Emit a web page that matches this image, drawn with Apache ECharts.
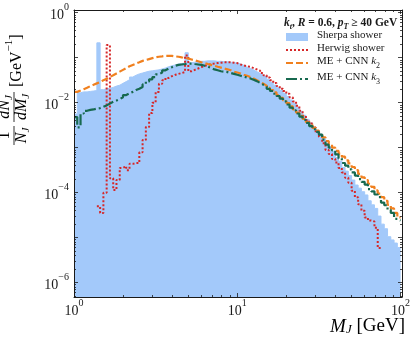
<!DOCTYPE html>
<html>
<head>
<meta charset="utf-8">
<script src="https://cdn.jsdelivr.net/npm/echarts@6/dist/echarts.min.js"></script>
<style>
  html, body { margin: 0; padding: 0; background: #fff; }
  #chart { width: 415px; height: 342px; }
</style>
</head>
<body>
<div id="chart"></div>
<script>
// jet mass spectra, 100 log bins between 1 and 100 GeV
const nBins = 100, massLo = 1, massHi = 100;

const sherpa = [
  5.6e-3, 1.66e-2, 1.74e-2, 1.74e-2, 1.78e-2, 1.82e-2, 1.86e-2, 2.14e-1, 1.95e-2, 2.04e-2,
  2.09e-2, 2.19e-2, 2.34e-2, 2.45e-2, 2.69e-2, 2.95e-2, 3.24e-2, 3.72e-2, 4.07e-2, 4.37e-2,
  4.57e-2, 4.79e-2, 5.01e-2, 5.13e-2, 5.25e-2, 5.37e-2, 5.62e-2, 5.89e-2, 6.31e-2, 6.61e-2,
  6.92e-2, 7.24e-2, 7.41e-2, 7.59e-2, 1.29e-1, 7.76e-2, 7.94e-2, 8.13e-2, 8.32e-2, 8.32e-2,
  8.51e-2, 8.51e-2, 8.51e-2, 8.32e-2, 8.32e-2, 8.13e-2, 8.13e-2, 7.94e-2, 7.76e-2, 7.59e-2,
  7.24e-2, 6.76e-2, 6.17e-2, 5.75e-2, 5.37e-2, 4.90e-2, 4.47e-2, 4.07e-2, 3.72e-2, 3.31e-2,
  2.82e-2, 2.45e-2, 2.14e-2, 1.86e-2, 1.62e-2, 1.38e-2, 1.15e-2, 9.55e-3, 7.76e-3, 6.46e-3,
  5.25e-3, 4.27e-3, 3.55e-3, 2.88e-3, 2.40e-3, 2.00e-3, 1.58e-3, 1.26e-3, 1.05e-3, 8.32e-4,
  6.03e-4, 5.01e-4, 3.63e-4, 3.02e-4, 2.40e-4, 1.91e-4, 1.48e-4, 1.26e-4, 1.05e-4, 8.91e-5,
  6.61e-5, 5.37e-5, 4.47e-5, 3.02e-5, 2.00e-5, 1.58e-5, 1.05e-5, 8.91e-6, 7.59e-6, 6.03e-6
];

// herwig is empty outside bins 7..93
const herwigFirstBin = 7;
const herwig = [
  5.01e-5, 3.55e-5, 1.00e-4, 1.91e-1, 2.09e-4, 1.15e-4, 1.91e-4, 3.55e-4, 3.89e-4, 3.16e-4,
  4.37e-4, 4.57e-4, 4.57e-4, 7.94e-4, 1.48e-3, 2.88e-3, 5.89e-3, 1.00e-2, 1.74e-2, 2.63e-2,
  3.16e-2, 3.55e-2, 3.89e-2, 4.17e-2, 4.37e-2, 4.57e-2, 4.79e-2, 1.12e-1, 5.01e-2, 5.37e-2,
  5.75e-2, 6.17e-2, 6.61e-2, 6.92e-2, 7.24e-2, 7.41e-2, 7.59e-2, 7.76e-2, 7.94e-2, 7.94e-2,
  7.94e-2, 7.76e-2, 7.59e-2, 7.08e-2, 6.76e-2, 6.46e-2, 6.31e-2, 5.89e-2, 5.50e-2, 5.13e-2,
  4.57e-2, 4.07e-2, 3.63e-2, 3.16e-2, 2.75e-2, 2.34e-2, 2.04e-2, 1.82e-2, 1.58e-2, 1.32e-2,
  1.07e-2, 8.51e-3, 6.61e-3, 5.13e-3, 4.07e-3, 3.47e-3, 2.82e-3, 2.19e-3, 1.74e-3, 1.26e-3,
  8.91e-4, 7.24e-4, 5.62e-4, 4.68e-4, 3.55e-4, 2.82e-4, 2.14e-4, 1.66e-4, 1.10e-4, 7.94e-5,
  5.50e-5, 3.98e-5, 2.82e-5, 2.40e-5, 2.29e-5, 1.66e-5, 5.89e-6
];

const cnnK2 = [
  1.74e-2, 1.86e-2, 2.00e-2, 2.14e-2, 2.34e-2, 2.51e-2, 2.69e-2, 2.88e-2, 3.16e-2, 3.39e-2,
  3.72e-2, 4.07e-2, 4.47e-2, 4.90e-2, 5.37e-2, 5.89e-2, 6.46e-2, 6.92e-2, 7.41e-2, 7.94e-2,
  8.51e-2, 8.91e-2, 9.33e-2, 9.77e-2, 1.02e-1, 1.05e-1, 1.07e-1, 1.10e-1, 1.10e-1, 1.10e-1,
  1.07e-1, 1.05e-1, 1.02e-1, 1.00e-1, 9.55e-2, 9.12e-2, 8.71e-2, 8.32e-2, 7.94e-2, 7.59e-2,
  7.24e-2, 6.92e-2, 6.61e-2, 6.31e-2, 6.03e-2, 5.75e-2, 5.50e-2, 5.25e-2, 4.90e-2, 4.68e-2,
  4.47e-2, 4.17e-2, 3.98e-2, 3.72e-2, 3.47e-2, 3.16e-2, 2.88e-2, 2.63e-2, 2.40e-2, 2.14e-2,
  1.91e-2, 1.70e-2, 1.48e-2, 1.29e-2, 1.12e-2, 9.77e-3, 8.32e-3, 7.08e-3, 6.03e-3, 5.13e-3,
  4.37e-3, 3.72e-3, 3.24e-3, 2.75e-3, 2.40e-3, 2.04e-3, 1.70e-3, 1.41e-3, 1.17e-3, 1.00e-3,
  8.51e-4, 7.41e-4, 6.31e-4, 5.25e-4, 4.47e-4, 3.72e-4, 3.16e-4, 2.63e-4, 2.19e-4, 1.91e-4,
  1.58e-4, 1.35e-4, 1.12e-4, 9.55e-5, 7.94e-5, 6.61e-5, 5.37e-5, 4.47e-5, 3.55e-5, 2.82e-5
];

const cnnK3 = [
  4.79e-3, 2.82e-3, 5.75e-3, 6.61e-3, 6.92e-3, 7.08e-3, 7.41e-3, 7.59e-3, 8.13e-3, 8.71e-3,
  9.55e-3, 1.05e-2, 1.12e-2, 1.20e-2, 1.32e-2, 1.48e-2, 1.62e-2, 1.74e-2, 1.91e-2, 2.04e-2,
  2.24e-2, 2.57e-2, 2.95e-2, 3.31e-2, 3.72e-2, 4.27e-2, 4.68e-2, 5.25e-2, 5.75e-2, 6.17e-2,
  6.61e-2, 6.92e-2, 7.08e-2, 7.24e-2, 7.41e-2, 7.41e-2, 7.24e-2, 7.08e-2, 6.92e-2, 6.61e-2,
  6.31e-2, 5.89e-2, 5.50e-2, 5.25e-2, 5.01e-2, 4.90e-2, 4.79e-2, 4.57e-2, 4.37e-2, 4.17e-2,
  3.98e-2, 3.80e-2, 3.63e-2, 3.47e-2, 3.24e-2, 3.02e-2, 2.75e-2, 2.51e-2, 2.29e-2, 2.04e-2,
  1.82e-2, 1.58e-2, 1.41e-2, 1.23e-2, 1.07e-2, 9.12e-3, 7.76e-3, 6.76e-3, 5.75e-3, 4.90e-3,
  4.17e-3, 3.55e-3, 3.02e-3, 2.57e-3, 2.24e-3, 1.95e-3, 1.51e-3, 1.17e-3, 1.00e-3, 8.71e-4,
  7.08e-4, 5.75e-4, 4.57e-4, 3.98e-4, 3.31e-4, 2.82e-4, 2.40e-4, 2.00e-4, 1.74e-4, 1.51e-4,
  1.20e-4, 1.07e-4, 9.12e-5, 7.94e-5, 6.03e-5, 5.25e-5, 4.17e-5, 3.55e-5, 2.63e-5, 2.40e-5
];

const xTickLabels = [1, 10, 100];
const yTickLabels = [1e-6, 1e-4, 1e-2, 1];

// ---- look ----
const serif = 'Liberation Serif';
const ink = '#1a1a1a';
const blue = '#a3c9fa';
const red = '#d62728';
const orange = '#f0801f';
const green = '#17694f';
const xMin = 1, xMax = 102, yMin = 4.8e-7, yMax = 1.15;

const edges = [];
for (let i = 0; i <= nBins; i++) edges.push(massLo * Math.pow(massHi / massLo, i / nBins));

// histogram -> points for a step line (last edge closes the final bin)
function stepPoints(vals, firstBin) {
  const pts = vals.map((v, k) => [edges[firstBin + k], v]);
  pts.push([edges[firstBin + vals.length], vals[vals.length - 1]]);
  return pts;
}

const xMajor = [1, 10, 100];
const xMinor = [];
[1, 10].forEach(d => { for (let k = 2; k <= 9; k++) xMinor.push(k * d); });
const yMajor = [];
const yMinor = [];
for (let e = -7; e <= 0; e++) {
  const p = Math.pow(10, e);
  if (p >= yMin && p <= yMax) yMajor.push(p);
  for (let k = 2; k <= 9; k++) if (k * p > yMin && k * p < yMax) yMinor.push(k * p);
}

const powRich = {
  b: { fontFamily: serif, fontSize: 14, color: ink, lineHeight: 20, verticalAlign: 'bottom' },
  s: { fontFamily: serif, fontSize: 10, color: ink, lineHeight: 10, verticalAlign: 'top' }
};
function powLabel(v) {
  const e = Math.round(Math.log10(v));
  return '{b|10}{s|' + (e < 0 ? '\u2212' + (-e) : e) + '}';
}

function axis(kind, pos, ticks, len, labels, showLine) {
  const isX = kind === 'x';
  return {
    type: 'log', logBase: 10, gridIndex: 0, position: pos, z: 5,
    min: isX ? xMin : yMin, max: isX ? xMax : yMax,
    axisLine: { show: showLine, onZero: false, lineStyle: { color: ink, width: 1 } },
    axisTick: { show: true, inside: true, length: len, customValues: ticks,
      lineStyle: { color: ink, width: 0.8 } },
    minorTick: { show: false },
    splitLine: { show: false },
    axisLabel: labels ? {
      customValues: labels, formatter: powLabel, rich: powRich,
      margin: isX ? 1 : 5
    } : { show: false }
  };
}

const mathRich = {
  t: { fontFamily: serif, fontSize: 11, color: ink, lineHeight: 14, verticalAlign: 'top' },
  i: { fontFamily: serif, fontSize: 11, fontStyle: 'italic', color: ink, lineHeight: 14, verticalAlign: 'top' },
  s: { fontFamily: serif, fontSize: 8, color: ink, lineHeight: 8, verticalAlign: 'bottom' }
};

const titleRich = {
  i: { fontFamily: serif, fontSize: 11.5, fontWeight: 'bold', fontStyle: 'italic', color: ink, lineHeight: 14, verticalAlign: 'top' },
  b: { fontFamily: serif, fontSize: 11.5, fontWeight: 'bold', color: ink, lineHeight: 14, verticalAlign: 'top' },
  s: { fontFamily: serif, fontSize: 8, fontWeight: 'bold', fontStyle: 'italic', color: ink, lineHeight: 8, verticalAlign: 'bottom' }
};

const labRich = {
  i: { fontFamily: serif, fontSize: 16, fontStyle: 'italic', color: ink, lineHeight: 18, verticalAlign: 'top' },
  s: { fontFamily: serif, fontSize: 11, fontStyle: 'italic', color: ink, lineHeight: 10, verticalAlign: 'bottom' },
  r: { fontFamily: serif, fontSize: 16, color: ink, lineHeight: 18, verticalAlign: 'top' },
  big: { fontFamily: serif, fontSize: 16, color: ink, lineHeight: 21, verticalAlign: 'bottom' },
  sup: { fontFamily: serif, fontSize: 11, color: ink, lineHeight: 11, verticalAlign: 'top' },
  xb: { fontFamily: serif, fontSize: 19, color: ink, lineHeight: 24, verticalAlign: 'bottom' },
  xi: { fontFamily: serif, fontSize: 19, fontStyle: 'italic', color: ink, lineHeight: 24, verticalAlign: 'bottom' },
  xs: { fontFamily: serif, fontSize: 13, fontStyle: 'italic', color: ink, lineHeight: 10, verticalAlign: 'bottom' }
};

function txt(x, y, text, align) {
  return { type: 'text', x: x, y: y, style: { text: text, rich: labRich, align: align || 'center', verticalAlign: 'middle' } };
}
function bar(x1, x2) {
  return { type: 'line', shape: { x1: x1, y1: 0, x2: x2, y2: 0 }, style: { stroke: ink, lineWidth: 0.9 } };
}

// legend line entries: keep the dashed line, hide the default marker dot
const noDot = { opacity: 0, borderWidth: 0 };

const chart = echarts.init(document.getElementById('chart'));
chart.setOption({
  animation: false,
  backgroundColor: '#fff',
  grid: { left: 74, right: 13, top: 10, bottom: 45 },
  xAxis: [
    axis('x', 'bottom', xMajor, 4, xTickLabels, true),
    axis('x', 'bottom', xMinor, 2, null, false),
    axis('x', 'top', xMajor, 4, null, true),
    axis('x', 'top', xMinor, 2, null, false)
  ],
  yAxis: [
    axis('y', 'left', yMajor, 4, yTickLabels, true),
    axis('y', 'left', yMinor, 2, null, false),
    axis('y', 'right', yMajor, 4, null, true),
    axis('y', 'right', yMinor, 2, null, false)
  ],
  title: {
    left: 284, top: 17, padding: 0,
    text: '{i|k}{s|t}{b|, }{i|R}{b| = 0.6, }{i|p}{s|T}{b| \u2265 40 GeV}',
    textStyle: { rich: titleRich }
  },
  legend: {
    orient: 'vertical', left: 285, top: 30, padding: 0,
    itemWidth: 22, itemHeight: 8, itemGap: 2,
    textStyle: { color: ink, fontFamily: serif, fontSize: 11, padding: [0, 0, 0, 4], rich: mathRich },
    data: [
      { name: 'Sherpa shower', icon: 'rect' },
      { name: 'Herwig shower', itemStyle: noDot },
      { name: 'ME + CNN k2', itemStyle: noDot },
      { name: 'ME + CNN k3', itemStyle: noDot }
    ],
    formatter: name => name.indexOf('ME') === 0
      ? '{t|ME + CNN }{i|k}{s|' + name.slice(-1) + '}'
      : '{t|' + name + '}'
  },
  series: [
    {
      name: 'Sherpa shower', type: 'line', step: 'end', symbol: 'none',
      data: stepPoints(sherpa, 0),
      color: blue,
      lineStyle: { color: blue, width: 1 },
      itemStyle: { color: blue },
      areaStyle: { color: blue, opacity: 1, origin: 'start' },
      z: 1
    },
    {
      name: 'Herwig shower', type: 'line', step: 'end', symbol: 'none',
      data: stepPoints(herwig, herwigFirstBin),
      color: red,
      lineStyle: { color: red, width: 2, type: [2, 2], cap: 'butt' },
      z: 2
    },
    {
      name: 'ME + CNN k2', type: 'line', step: 'end', symbol: 'none',
      data: stepPoints(cnnK2, 0),
      color: orange,
      lineStyle: { color: orange, width: 2.2, type: [7, 3], cap: 'butt' },
      z: 3
    },
    {
      name: 'ME + CNN k3', type: 'line', step: 'end', symbol: 'none',
      data: stepPoints(cnnK3, 0),
      color: green,
      lineStyle: { color: green, width: 2.2, type: [11, 3, 2, 3], cap: 'butt' },
      z: 4
    }
  ],
  graphic: [
    {
      // y-axis title, rotated to read bottom-to-top
      type: 'group', x: 14, y: 145, rotation: Math.PI / 2,
      children: [
        txt(9.5, -8, '{r|1}'),
        bar(0, 19),
        txt(9.5, 9, '{i|N}{s|J}'),
        txt(38, -8, '{i|dN}{s|J}'),
        bar(23, 53),
        txt(38, 9, '{i|dM}{s|J}'),
        txt(58, 0, '{big|[GeV}{sup|\u22121}{big|]}', 'left')
      ]
    },
    {
      type: 'text', right: 10, top: 317,
      style: { text: '{xi|M}{xs|J}{xb| [GeV]}', rich: labRich }
    }
  ]
});
</script>
</body>
</html>
